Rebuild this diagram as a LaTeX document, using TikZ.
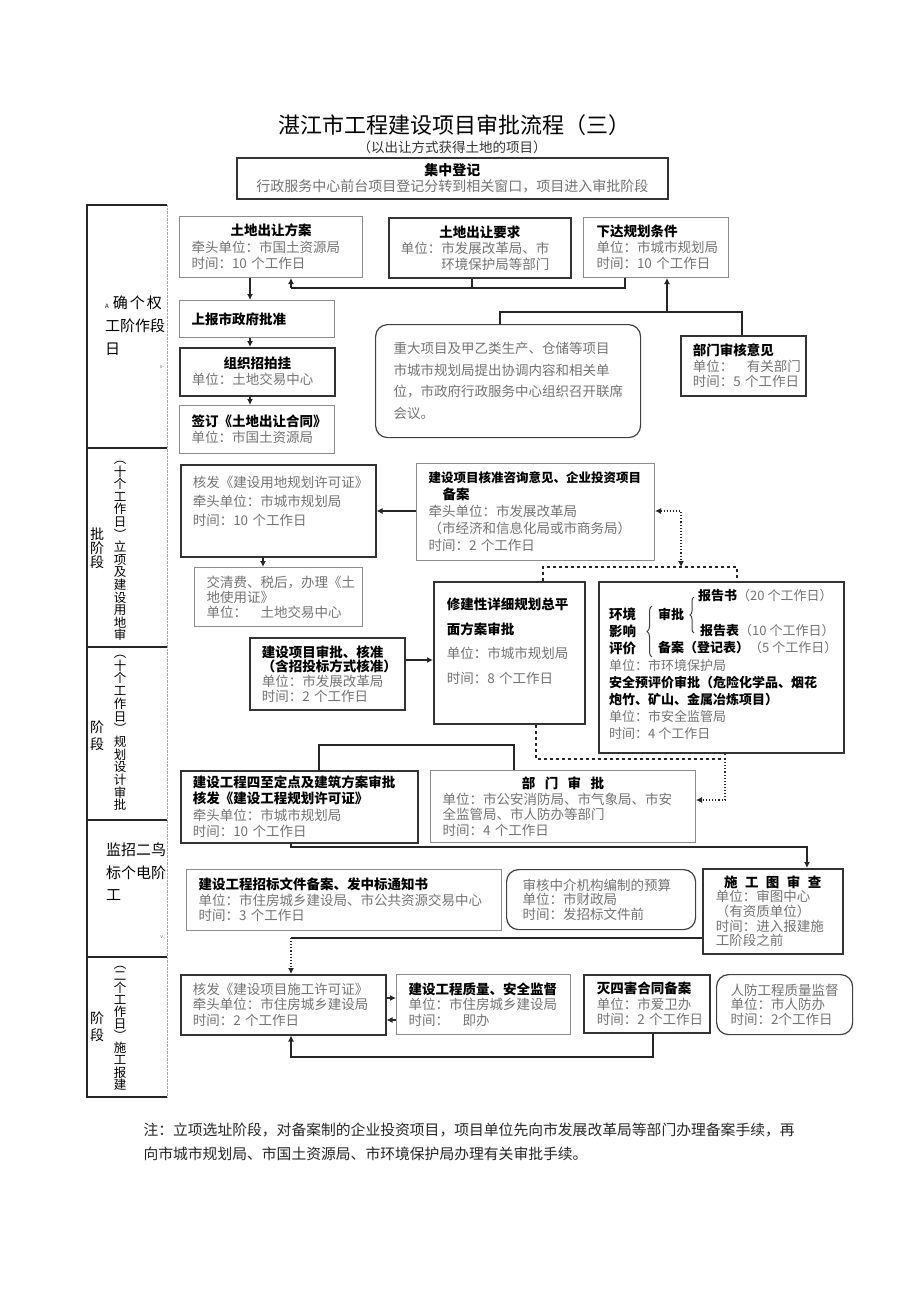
\documentclass[tikz,border=0pt]{standalone}
\usepackage{fontspec}
\setmainfont{Noto Sans CJK SC}
\usetikzlibrary{arrows.meta,decorations.pathreplacing}

\newcommand{\hd}[1]{\textbf{\textcolor{black}{#1}}}
\newcommand{\ctr}[1]{\makebox[\linewidth]{#1}}
\newcommand{\fsz}[2][13.5]{\fontsize{#1pt}{#2pt}\selectfont}

\tikzset{
  >={Latex[length=6pt,width=6pt]},
  dbox/.style={draw=black!80, line width=1.5pt, anchor=north west, align=left,
    inner xsep=12pt, inner ysep=2pt, text=black!55},
  lbox/.style={dbox, draw=black!45, line width=1pt},
  rbox/.style={dbox, draw=black!75, line width=1.2pt, rounded corners=12pt},
  mtxt/.style={anchor=west, inner sep=0pt, text=black!55, font={\fsz[13]{17}}, align=left},
  stage/.style={anchor=west, inner sep=0pt, align=left, text=black},
  vstage/.style={inner sep=0pt, align=center, text=black},
  link/.style={draw=black!85, line width=1.4pt},
  arr/.style={link, ->},
  dotlink/.style={draw=black!85, line width=1.1pt, dotted},
  dashlink/.style={draw=black!85, line width=1.1pt, dashed},
  mbrace/.style={draw=black!75, line width=1pt, decorate, decoration={brace, amplitude=#1}},
}

\begin{document}
\begin{tikzpicture}[x=1pt, y=-1pt]
\path[use as bounding box, fill=white] (0,0) rectangle (920,1301);

% Title
\node[font={\fsz[22]{26}}] (title) at (454,125) {湛江市工程建设项目审批流程（三）};
\node[font={\fsz[13.5]{16}}, text=black!80] (subtitle) at (452,147) {（以出让方式获得土地的项目）};

% Stage column
\draw[line width=1.1pt, black!85] (167,205) -- (87,205) -- (87,1097) -- (167,1097);
\draw[black!35, densely dotted] (167,205) -- (167,1097);
\foreach \y in {448,647,820,957}
  \draw[line width=1.1pt, black!85] (87,\y) -- (167,\y);
\node[stage, font={\fsz[15]{23}}] (stA) at (105,326) {{\fontsize{6pt}{6pt}\selectfont A}\hspace{4pt}确\hspace{2pt}个\hspace{2pt}权\\工阶作段\\日};
\node[font={\fsz[5]{5}}, text=black!60] (mkA) at (162,367) {s-};
\node[vstage, font={\fsz[14]{14}}] (stB1) at (97,548) {批\\阶\\段};
\node[vstage, font={\fsz[12.5]{12.6}}] (stB2) at (120,551) {︵\\十\\个\\工\\作\\日\\︶\\立\\项\\及\\建\\设\\用\\地\\审};
\node[vstage, font={\fsz[14]{17}}] (stC1) at (97,736) {阶\\段};
\node[vstage, font={\fsz[12.5]{12.7}}] (stC2) at (120,733) {︵\\十\\个\\工\\作\\日\\︶\\规\\划\\设\\计\\审\\批};
\node[stage, font={\fsz[15]{22.5}}] (stD) at (106,872) {监招二鸟\\标个电阶\\工};
\node[font={\fsz[5]{5}}, text=black!60] (mkD) at (163,938) {v.,};
\node[vstage, font={\fsz[14]{17}}] (stE1) at (97,1027) {阶\\段};
\node[vstage, font={\fsz[12.5]{12.1}}] (stE2) at (120,1028) {︵\\二\\个\\工\\作\\日\\︶\\施\\工\\报\\建};

% Define nodes
\node[dbox, align=center, minimum width=431pt, minimum height=41pt, font={\fsz[14]{16}}] (jzdj) at (236,157)
  {\hd{集中登记}\\行政服务中心前台项目登记分转到相关窗口，项目进入审批阶段};

\node[lbox, text width=159pt, minimum height=61pt, font={\fsz{16.5}}] (tdfa) at (179,216)
  {\ctr{\hd{土地出让方案}}\\牵头单位：市国土资源局\\时间：10~个工作日};
\node[dbox, text width=158pt, minimum height=60pt, font={\fsz{16}}] (tdyq) at (388,217)
  {\ctr{\hd{土地出让要求}}\\单位：市发展改革局、市\\\phantom{单位：}环境保护局等部门};
\node[lbox, text width=119pt, inner xsep=13pt, minimum height=60pt, font={\fsz{16}}] (xdgh) at (583,217)
  {\hd{下达规划条件}\\单位：市城市规划局\\时间：10~个工作日};

\node[lbox, text width=131pt, minimum height=37pt, font={\fsz{16}}] (sbzf) at (179,300) {\hd{上报市政府批准}};
\node[dbox, text width=131pt, minimum height=48pt, font={\fsz{16}}] (zzzp) at (179,347)
  {\ctr{\hd{组织招拍挂}}\\单位：土地交易中心};
\node[lbox, text width=131pt, minimum height=48pt, font={\fsz{16}}] (qdht) at (179,405)
  {\hd{签订《土地出让合同》}\\单位：市国土资源局};

\node[rbox, text width=229pt, inner xsep=18pt, minimum height=113pt, font={\fsz{21.5}}] (zdxm) at (375,324)
  {重大项目及甲乙类生产、仓储等项目\\市城市规划局提出协调内容和相关单\\位，市政府行政服务中心组织召开联席\\会议。};
\node[dbox, text width=101pt, minimum height=60pt, font={\fsz{15.5}}] (bmsh) at (680,335)
  {\hd{部门审核意见}\\单位：\hspace*{1em}有关部门\\时间：5~个工作日};

\node[dbox, text width=171pt, minimum height=92pt, font={\fsz{19}}] (ydgh) at (180,464)
  {核发《建设用地规划许可证》\\牵头单位：市城市规划局\\时间：10~个工作日\\\mbox{}};
\node[lbox, text width=214pt, minimum height=97pt, font={\fsz{17}}] (jsxm) at (416,463)
  {{\fontsize{12.5pt}{17pt}\selectfont\hd{建设项目核准咨询意见、企业投资项目}}\\\hspace*{14pt}\hd{备案}\\牵头单位：市发展改革局\\（市经济和信息化局或市商务局）\\时间：2~个工作日};
\node[lbox, text width=144pt, minimum height=59pt, font={\fsz{15}}] (tdsy) at (194,567)
  {交清费、税后，办理《土\\地使用证》\\单位：\hspace*{1em}土地交易中心};

\node[dbox, text width=125pt, inner xsep=13pt, minimum height=142pt, font={\fsz{24.5}}] (xjx) at (433,581)
  {\hd{修建性详细规划总平}\\\hd{面方案审批}\\单位：市城市规划局\\时间：8~个工作日\\\mbox{}};
\node[dbox, minimum width=245pt, minimum height=171pt] (hjpj) at (598,581) {};
\node[dbox, text width=131pt, minimum height=72pt, font={\fsz{14.7}}] (jsxmsp) at (249,637)
  {\hd{建设项目审批、核准}\\\hd{（含招投标方式核准）}\\单位：市发展改革局\\时间：2~个工作日};

% Inside the environment box
\node[mtxt, font={\fsz[13.5]{17}}] (hjyx) at (609,631) {\hd{环境}\\\hd{影响}\\\hd{评价}};
\draw[mbrace=5pt] (652,657) -- (652,606);
\node[mtxt] (spj) at (658,614) {\hd{审批}};
\draw[mbrace=4pt] (694,633) -- (694,597);
\node[mtxt] (bgs) at (698,596) {\hd{报告书}（20 个工作日）};
\node[mtxt] (bgb) at (700,631) {\hd{报告表}（10 个工作日）};
\node[mtxt] (bazl) at (658,648) {\hd{备案（登记表）}（5 个工作日）};
\node[mtxt] (aqpj) at (609,699)
  {单位：市环境保护局\\\hd{安全预评价审批（危险化学品、烟花}\\\hd{炮竹、矿山、金属冶炼项目）}\\单位：市安全监管局\\时间：4 个工作日};

\node[dbox, text width=213pt, minimum height=72pt, font={\fsz{16.3}}] (gcgh) at (180,770)
  {\hd{建设工程四至定点及建筑方案审批}\\\hd{核发《建设工程规划许可证》}\\牵头单位：市城市规划局\\时间：10~个工作日};
\node[lbox, text width=241pt, minimum height=72pt, font={\fsz{15.5}}] (bmsp) at (430,770)
  {\ctr{\hd{部\hspace{.7em}门\hspace{.7em}审\hspace{.7em}批}}\\单位：市公安消防局、市气象局、市安\\全监管局、市人防办等部门\\时间：4~个工作日};

\node[lbox, text width=291pt, minimum height=61pt, font={\fsz{15.5}}] (zbwj) at (186,869)
  {\hd{建设工程招标文件备案、发中标通知书}\\单位：市住房城乡建设局、市公共资源交易中心\\时间：3~个工作日};
\node[rbox, text width=157pt, inner xsep=16pt, minimum height=60pt, font={\fsz{14.5}}] (ysbz) at (506,869)
  {审核中介机构编制的预算\\单位：市财政局\\时间：发招标文件前};
\node[dbox, text width=114pt, inner xsep=13pt, minimum height=85pt, font={\fsz{14.7}}] (sgtsc) at (702,868)
  {\ctr{\hd{施\hspace{.55em}工\hspace{.55em}图\hspace{.55em}审\hspace{.55em}查}}\\单位：审图中心\\（有资质单位）\\时间：进入报建施\\工阶段之前};

\node[dbox, text width=181pt, minimum height=60pt, font={\fsz{15.5}}] (sgxk) at (180,974)
  {核发《建设项目施工许可证》\\牵头单位：市住房城乡建设局\\时间：2~个工作日};
\node[lbox, text width=150pt, minimum height=60pt, font={\fsz{15.5}}] (zlaq) at (396,974)
  {\hd{建设工程质量、安全监督}\\单位：市住房城乡建设局\\时间：\hspace*{1em}即办};
\node[dbox, text width=100pt, inner xsep=13pt, minimum height=58pt, font={\fsz{15.5}}] (shsh) at (583,974)
  {\hd{灭四害合同备案}\\单位：市爱卫办\\时间：2~个工作日};
\node[rbox, text width=108pt, inner xsep=14pt, minimum height=60pt, font={\fsz{14.5}}] (rfjd) at (716,974)
  {人防工程质量监督\\单位：市人防办\\时间：2个工作日};

\node[anchor=west, align=left, font={\fsz[14.8]{24}}, text=black!85] (note) at (140,1142)
  {注：立项选址阶段，对备案制的企业投资项目，项目单位先向市发展改革局等部门办理备案手续，再\\向市城市规划局、市国土资源局、市环境保护局办理有关审批手续。};

% Connect nodes
\coordinate (colA) at (250,0);
\draw[arr] (tdfa.south -| colA) -- (sbzf.north -| colA);
\draw[arr] (sbzf.south -| colA) -- (zzzp.north -| colA);
\draw[arr] (zzzp.south -| colA) -- (qdht.north -| colA);

\coordinate (fbA) at (291,288);
\coordinate (fbB) at (472,288);
\coordinate (fbC) at (625,288);
\draw[link] (xdgh.south -| fbC) -- (fbC) -- (fbA);
\draw[link] (tdyq.south -| fbB) -- (fbB);
\draw[arr] (fbA) -- (tdfa.south -| fbA);

\coordinate (gx) at (500,312);
\coordinate (zx) at (667,312);
\coordinate (hx) at (742,312);
\draw[link] (zdxm.north -| gx) -- (gx) -- (hx) -- (bmsh.north -| hx);
\draw[arr] (zx) -- (xdgh.south -| zx);

\coordinate (jy) at (0,511);
\draw[arr] (jsxm.west |- jy) -- (ydgh.east |- jy);
\coordinate (kx) at (263,0);
\draw[arr] (ydgh.south -| kx) -- (tdsy.north -| kx);

\coordinate (jd) at (681,511);
\coordinate (jb) at (681,567);
\coordinate (bl) at (543,567);
\coordinate (br) at (737,567);
\draw[dotlink, <->] (jsxm.east |- jd) -- (jd) -- (jb);
\draw[dashlink] (xjx.north -| bl) -- (bl) -- (br) -- (hjpj.north -| br);

\coordinate (ny) at (0,660);
\draw[arr] (jsxmsp.east |- ny) -- (xjx.west |- ny);

\coordinate (ld) at (536,759);
\coordinate (md) at (725,759);
\coordinate (pd) at (725,800);
\draw[dashlink] (xjx.south -| ld) -- (ld) -- (md) -- (hjpj.south -| md);
\draw[dotlink, ->] (md) -- (pd) -- (bmsp.east |- pd);

\coordinate (op1) at (319,745);
\coordinate (op2) at (514,745);
\draw[link] (gcgh.north -| op1) -- (op1) -- (op2) -- (bmsp.north -| op2);

\coordinate (os1) at (291,847);
\coordinate (os2) at (807,847);
\draw[arr] (gcgh.south -| os1) -- (os1) -- (os2) -- (sgtsc.north -| os2);

\coordinate (st1) at (291,938);
\draw[link] (sgtsc.west |- st1) -- (st1);
\draw[dotlink, ->] (st1) -- (sgxk.north -| st1);

\coordinate (tu1) at (0,998);
\coordinate (tu2) at (0,1020);
\draw[arr] (sgxk.east |- tu1) -- (zlaq.west |- tu1);
\draw[arr] (zlaq.west |- tu2) -- (sgxk.east |- tu2);

\coordinate (vt1) at (653,1057);
\coordinate (vt2) at (291,1057);
\draw[arr] (shsh.south -| vt1) -- (vt1) -- (vt2) -- (sgxk.south -| vt2);
\end{tikzpicture}
\end{document}
